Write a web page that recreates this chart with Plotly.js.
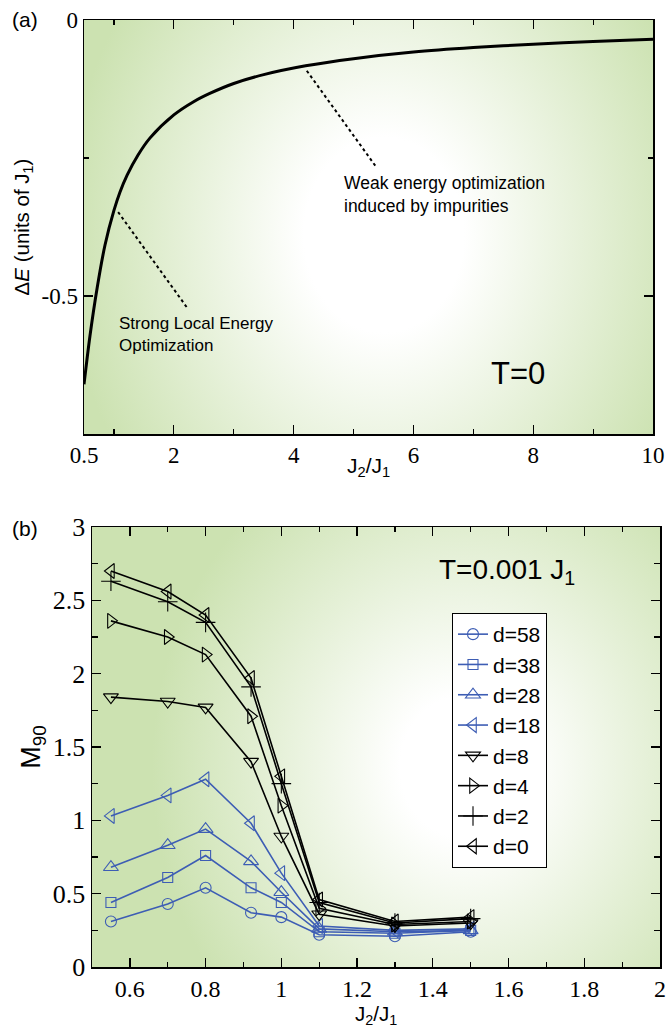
<!DOCTYPE html>
<html>
<head>
<meta charset="utf-8">
<script src="https://cdn.plot.ly/plotly-3.0.1.min.js"></script>
<style>
  html, body { margin: 0; padding: 0; background: #ffffff; }
  #chart { width: 666px; height: 1029px; }
</style>
</head>
<body>
<div id="chart"></div>
<script>
// ---------- Panel (a): energy gain at T=0 ----------
const ratioA = [0.5, 0.6, 0.72, 0.85, 1.0, 1.1, 1.22, 1.4, 1.6, 2.0, 2.33, 2.6, 3.0, 3.5, 4.2, 5.0, 6.0, 7.0, 8.0, 9.0, 10];
const deltaE = [-0.66, -0.572, -0.485, -0.408, -0.345, -0.312, -0.281, -0.245, -0.214, -0.172, -0.148, -0.133, -0.115, -0.099, -0.083, -0.07, -0.058, -0.05, -0.044, -0.039, -0.035];

// dotted pointer lines from the curve to the two notes
const strongPtrX = [1.07, 2.24];
const strongPtrY = [-0.348, -0.524];
const weakPtrX = [4.22, 5.39];
const weakPtrY = [-0.092, -0.268];

// ---------- Panel (b): M90 vs J2/J1 at T=0.001 J1 ----------
const ratioB = [0.55, 0.7, 0.8, 0.92, 1.0, 1.1, 1.3, 1.5];
const labelsB = ['d=58', 'd=38', 'd=28', 'd=18', 'd=8', 'd=4', 'd=2', 'd=0'];
const m90_d58 = [0.31, 0.43, 0.54, 0.37, 0.34, 0.22, 0.21, 0.24];
const m90_d38 = [0.44, 0.61, 0.76, 0.54, 0.44, 0.24, 0.23, 0.25];
const m90_d28 = [0.68, 0.83, 0.94, 0.72, 0.51, 0.26, 0.24, 0.25];
const m90_d18 = [1.03, 1.17, 1.28, 0.98, 0.64, 0.28, 0.25, 0.26];
const m90_d8  = [1.84, 1.81, 1.77, 1.40, 0.89, 0.36, 0.28, 0.30];
const m90_d4  = [2.36, 2.25, 2.13, 1.71, 1.10, 0.40, 0.29, 0.31];
const m90_d2  = [2.63, 2.49, 2.35, 1.91, 1.25, 0.44, 0.30, 0.33];
const m90_d0  = [2.70, 2.56, 2.40, 1.97, 1.30, 0.46, 0.31, 0.34];

// tick labels
const tickValsA = [0.5, 2, 4, 6, 8, 10];
const tickTextA = ['0.5', '2', '4', '6', '8', '10'];
const minorA = [1, 3, 5, 7, 9];
const yTickValsA = [0, -0.5];
const yTickTextA = ['0', '-0.5'];
const yMinorA = [-0.25, -0.75];
const tickValsB = [0.6, 0.8, 1, 1.2, 1.4, 1.6, 1.8, 2];
const tickTextB = ['0.6', '0.8', '1', '1.2', '1.4', '1.6', '1.8', '2'];
const minorB = [0.7, 0.9, 1.1, 1.3, 1.5, 1.7, 1.9];
const yTickValsB = [0, 0.5, 1, 1.5, 2, 2.5, 3];
const yTickTextB = ['0', '0.5', '1', '1.5', '2', '2.5', '3'];
const yMinorB = [0.25, 0.75, 1.25, 1.75, 2.25, 2.75];

const BLUE = '#3d5db4';
const GREEN = 'rgb(204,226,177)';
const SANS = 'Liberation Sans';
const SERIF = 'Liberation Serif';

// soft radial wash used behind each panel
function wash(w, h, cx, cy, rx, ry, inner) {
  const c = document.createElement('canvas');
  c.width = w; c.height = h;
  const g = c.getContext('2d');
  g.fillStyle = GREEN;
  g.fillRect(0, 0, w, h);
  const s = ry / rx;
  g.save();
  g.translate(cx, cy);
  g.scale(1, s);
  const grad = g.createRadialGradient(0, 0, 0, 0, 0, rx);
  grad.addColorStop(0, '#ffffff');
  grad.addColorStop(inner, '#ffffff');
  grad.addColorStop(1, GREEN);
  g.fillStyle = grad;
  g.fillRect(-cx, -cy / s, w, h / s);
  g.restore();
  return c.toDataURL('image/png');
}

const W = 666, H = 1029;
const boxA = {l: 84, r: 653, t: 20, b: 434};
const boxB = {l: 92, r: 660, t: 527, b: 967};

const washA = wash(boxA.r - boxA.l, boxA.b - boxA.t, 300, 215, 320, 390, 0.25);
const washB = wash(boxB.r - boxB.l, boxB.b - boxB.t, 370, 240, 310, 350, 0.2);

function seriesB(name, y, color, symbol, size) {
  return {
    type: 'scatter', mode: 'lines+markers', name: name,
    x: ratioB, y: y, xaxis: 'x2', yaxis: 'y2',
    line: {color: color, width: 1.6},
    marker: {symbol: symbol, size: size, color: color, line: {color: color, width: 1.1}},
    showlegend: true
  };
}

const traces = [
  {type: 'scatter', mode: 'lines', x: ratioA, y: deltaE, xaxis: 'x', yaxis: 'y',
   line: {color: '#000000', width: 3, shape: 'spline', smoothing: 0.8}, showlegend: false, hoverinfo: 'skip'},
  {type: 'scatter', mode: 'lines', x: strongPtrX, y: strongPtrY, xaxis: 'x', yaxis: 'y',
   line: {color: '#000000', width: 2, dash: 'dot'}, showlegend: false, hoverinfo: 'skip'},
  {type: 'scatter', mode: 'lines', x: weakPtrX, y: weakPtrY, xaxis: 'x', yaxis: 'y',
   line: {color: '#000000', width: 2, dash: 'dot'}, showlegend: false, hoverinfo: 'skip'},
  seriesB(labelsB[0], m90_d58, BLUE, 'circle-open', 11),
  seriesB(labelsB[1], m90_d38, BLUE, 'square-open', 10),
  seriesB(labelsB[2], m90_d28, BLUE, 'triangle-up-open', 13),
  seriesB(labelsB[3], m90_d18, BLUE, 'triangle-left-open', 13),
  seriesB(labelsB[4], m90_d8, '#000000', 'triangle-down-open', 13),
  seriesB(labelsB[5], m90_d4, '#000000', 'triangle-right-open', 13),
  seriesB(labelsB[6], m90_d2, '#000000', 'cross-thin-open', 14),
  seriesB(labelsB[7], m90_d0, '#000000', 'triangle-left-open', 13)
];

function axisBase(fontSize) {
  return {
    showline: true, linecolor: '#000000', linewidth: 1.5, mirror: 'ticks',
    ticks: 'inside', ticklen: 9, tickwidth: 1.3, tickcolor: '#000000',
    showgrid: false, zeroline: false, fixedrange: true,
    ticklabeloverflow: 'allow',
    tickfont: {family: SERIF, size: fontSize, color: '#000000'}
  };
}
function minorTicks(vals) {
  return {tickmode: 'array', tickvals: vals, ticks: 'inside', ticklen: 5, tickwidth: 1.2, tickcolor: '#000000'};
}

const layout = {
  width: W, height: H,
  margin: {l: 0, r: 0, t: 0, b: 0},
  paper_bgcolor: '#ffffff',
  plot_bgcolor: 'rgba(0,0,0,0)',
  showlegend: true,
  font: {family: SANS, color: '#000000'},
  xaxis: Object.assign(axisBase(23), {
    domain: [boxA.l / W, boxA.r / W], anchor: 'y', range: [0.5, 10],
    tickmode: 'array', tickvals: tickValsA, ticktext: tickTextA,
    minor: minorTicks(minorA)
  }),
  yaxis: Object.assign(axisBase(23), {
    domain: [1 - boxA.b / H, 1 - boxA.t / H], anchor: 'x', range: [-0.75, 0],
    tickmode: 'array', tickvals: yTickValsA, ticktext: yTickTextA,
    minor: minorTicks(yMinorA),
    title: {text: '\u0394<i>E</i> (units of J<sub>1</sub>)', font: {family: SANS, size: 20.5}, standoff: 6}
  }),
  xaxis2: Object.assign(axisBase(24), {
    domain: [boxB.l / W, boxB.r / W], anchor: 'y2', range: [0.5, 2],
    tickmode: 'array', tickvals: tickValsB, ticktext: tickTextB,
    minor: minorTicks(minorB)
  }),
  yaxis2: Object.assign(axisBase(26), {
    domain: [1 - boxB.b / H, 1 - boxB.t / H], anchor: 'x2', range: [0, 3],
    tickmode: 'array', tickvals: yTickValsB, ticktext: yTickTextB,
    minor: Object.assign(minorTicks(yMinorB), {ticklen: 6}),
    title: {text: 'M<sub>90</sub>', font: {family: SANS, size: 27}, standoff: 4}
  }),
  legend: {
    x: 452 / W, y: 1 - 613 / H, xanchor: 'left', yanchor: 'top',
    xref: 'paper', yref: 'paper',
    bgcolor: '#ffffff', bordercolor: '#000000', borderwidth: 1,
    font: {family: SANS, size: 21, color: '#000000'},
    tracegroupgap: 0, itemwidth: 30
  },
  images: [
    {source: washA, xref: 'x domain', yref: 'y domain', x: 0, y: 1, sizex: 1, sizey: 1,
     xanchor: 'left', yanchor: 'top', sizing: 'stretch', layer: 'below'},
    {source: washB, xref: 'x2 domain', yref: 'y2 domain', x: 0, y: 1, sizex: 1, sizey: 1,
     xanchor: 'left', yanchor: 'top', sizing: 'stretch', layer: 'below'}
  ],
  annotations: [
    {text: '(a)', xref: 'paper', yref: 'paper', x: 25 / W, y: 1 - 20 / H, xanchor: 'center', yanchor: 'middle',
     showarrow: false, font: {family: SANS, size: 21}},
    {text: '(b)', xref: 'paper', yref: 'paper', x: 25 / W, y: 1 - 528 / H, xanchor: 'center', yanchor: 'middle',
     showarrow: false, font: {family: SANS, size: 21}},
    // x-axis titles
    {text: 'J<sub>2</sub>/J<sub>1</sub>', xref: 'x domain', yref: 'paper', x: 0.5, y: 1 - 467 / H,
     xanchor: 'center', yanchor: 'middle', showarrow: false, font: {family: SANS, size: 21}},
    {text: 'J<sub>2</sub>/J<sub>1</sub>', xref: 'x2 domain', yref: 'paper', x: 0.5, y: 1 - 1015 / H,
     xanchor: 'center', yanchor: 'middle', showarrow: false, font: {family: SANS, size: 20.5}},
    // notes in panel (a)
    {text: 'Strong Local Energy<br>Optimization', xref: 'x', yref: 'y', x: 1.07, y: -0.531,
     xanchor: 'left', yanchor: 'top', align: 'left', showarrow: false, borderpad: 0,
     font: {family: SANS, size: 17}},
    {text: 'Weak energy optimization<br>induced by impurities', xref: 'x', yref: 'y', x: 4.82, y: -0.275,
     xanchor: 'left', yanchor: 'top', align: 'left', showarrow: false, borderpad: 0,
     font: {family: SANS, size: 17.5}},
    {text: 'T=0', xref: 'x', yref: 'y', x: 7.75, y: -0.641, xanchor: 'center', yanchor: 'middle',
     showarrow: false, font: {family: SANS, size: 31}},
    {text: 'T=0.001 J<sub>1</sub>', xref: 'x2', yref: 'y2', x: 1.412, y: 2.7, xanchor: 'left', yanchor: 'middle',
     showarrow: false, font: {family: SANS, size: 28}}
  ]
};

Plotly.newPlot('chart', traces, layout, {displayModeBar: false, staticPlot: true});
</script>
</body>
</html>
